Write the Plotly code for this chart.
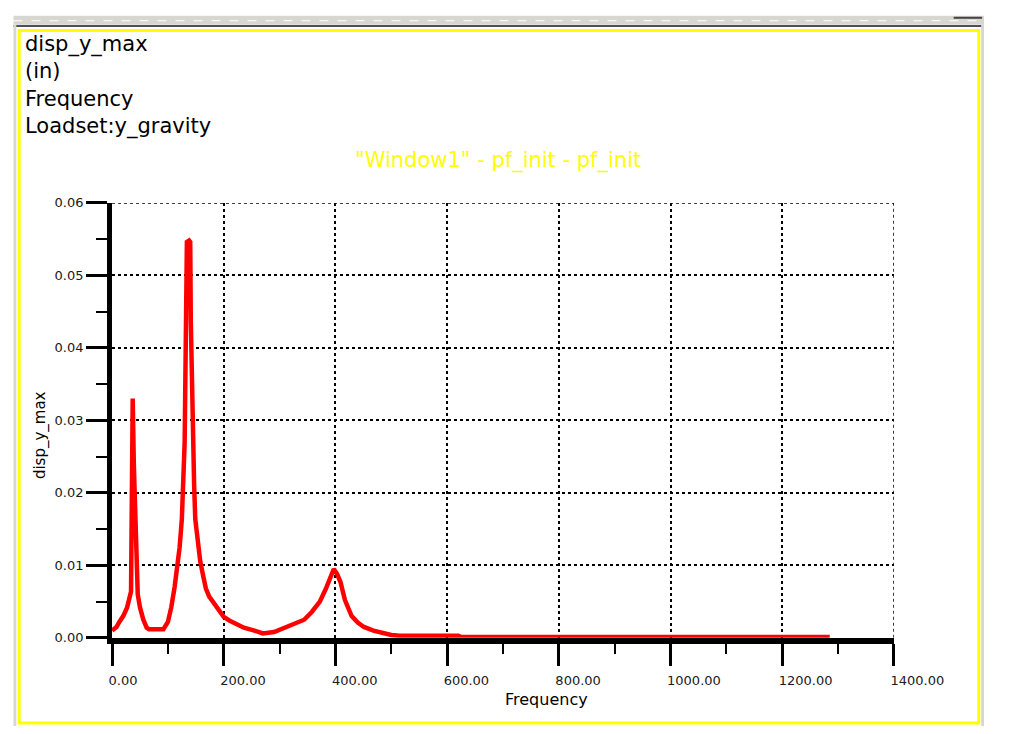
import plotly.graph_objects as go

W, H = 1034, 734

# ---- data ----
freq = [0, 8, 13, 20, 27, 31, 34, 35, 37, 39, 43, 46, 50, 56, 62, 66, 88,
        92, 100, 106, 112, 117, 121, 125, 128, 130, 132, 134, 138, 140, 141, 143, 145, 147,
        149, 154, 158, 163, 168, 174, 180, 190, 200, 210, 220, 236, 255, 270, 290, 310,
        330, 344, 358, 372, 383, 392, 397, 403, 409, 417, 424, 429, 440, 451, 468, 485,
        500, 515, 620, 625, 1285]
disp = [0.0010, 0.0015, 0.0022, 0.0030, 0.0042, 0.0052, 0.0064, 0.0155, 0.0330, 0.0240,
        0.0096, 0.0060, 0.0042, 0.0025, 0.0014, 0.0012, 0.0012,
        0.0012, 0.0022, 0.0042, 0.0070, 0.0096, 0.0125, 0.0164, 0.0215, 0.0270, 0.0407,
        0.0546, 0.0548, 0.0546, 0.0437, 0.0340, 0.0270, 0.0210,
        0.0164, 0.0125, 0.0105, 0.0086, 0.0068, 0.0057, 0.0050, 0.0040, 0.0029, 0.0024,
        0.0020, 0.0014, 0.0010, 0.0006, 0.0008, 0.0014,
        0.0020, 0.0025, 0.0036, 0.0050, 0.0068, 0.0085, 0.0095, 0.0088, 0.0077, 0.0052,
        0.0038, 0.0030, 0.0021, 0.0015, 0.0010, 0.0006,
        0.0004, 0.0003, 0.0003, 0.0001, 0.0001]

x_ticks = [0, 200, 400, 600, 800, 1000, 1200, 1400]
x_ticklabels = ["0.00", "200.00", "400.00", "600.00", "800.00", "1000.00", "1200.00", "1400.00"]
y_ticks = [0.00, 0.01, 0.02, 0.03, 0.04, 0.05, 0.06]
y_ticklabels = ["0.00", "0.01", "0.02", "0.03", "0.04", "0.05", "0.06"]

header_lines = ["disp_y_max", "(in)", "Frequency", "Loadset:y_gravity"]
subtitle = '"Window1" - pf_init - pf_init'
x_title = "Frequency"
y_title = "disp_y_max"

# ---- geometry helpers (pixel -> paper, margins are zero) ----
def X(px):
    return px / W

def Y(py):
    return 1 - py / H

PL, PR, PT, PB = 114, 939, 200, 644

fig = go.Figure()
fig.add_trace(go.Scatter(x=freq, y=disp, mode="lines",
                         line=dict(color="#ff0000", width=4.5), hoverinfo="skip",
                         showlegend=False))

tickfont = dict(family="DejaVu Sans", size=13, color="#1a1a1a")

fig.update_layout(
    width=W, height=H,
    margin=dict(l=0, r=0, t=0, b=0),
    paper_bgcolor="white", plot_bgcolor="white",
    showlegend=False,
    xaxis=dict(
        domain=[X(PL), X(PR)], range=[0, 1400],
        tickmode="array", tickvals=x_ticks, ticktext=x_ticklabels,
        ticks="outside", ticklen=22, tickwidth=3, tickcolor="black",
        ticklabelposition="outside right", ticklabelshift=-8, ticklabelstandoff=26,
        showline=True, linecolor="black", linewidth=6,
        showgrid=True, gridcolor="black", gridwidth=1.5, griddash="dot",
        zeroline=False, layer="below traces",
        minor=dict(dtick=100, ticks="outside", ticklen=10, tickwidth=2,
                   tickcolor="black", showgrid=False),
        tickfont=tickfont, fixedrange=True,
    ),
    yaxis=dict(
        domain=[Y(PB), Y(PT)], range=[0, 0.06],
        tickmode="array", tickvals=y_ticks, ticktext=y_ticklabels,
        ticks="outside", ticklen=21, tickwidth=3, tickcolor="black",
        showline=True, linecolor="black", linewidth=5,
        showgrid=True, gridcolor="black", gridwidth=1.5, griddash="dot",
        zeroline=False, layer="below traces",
        minor=dict(dtick=0.005, ticks="outside", ticklen=11, tickwidth=2,
                   tickcolor="black", showgrid=False),
        tickfont=tickfont, fixedrange=True,
    ),
)

shapes = []
# window chrome
shapes.append(dict(type="rect", xref="paper", yref="paper", x0=X(10), x1=X(1034), y0=Y(18), y1=Y(9),
                   fillcolor="#d8d6d0", line=dict(width=0), layer="below"))
shapes.append(dict(type="line", xref="paper", yref="paper", x0=X(10), x1=X(1034), y0=Y(14), y1=Y(14),
                   line=dict(color="white", width=1, dash="dash")))
shapes.append(dict(type="line", xref="paper", yref="paper", x0=X(10), x1=X(1034), y0=Y(19.5), y1=Y(19.5),
                   line=dict(color="#505050", width=2)))
shapes.append(dict(type="rect", xref="paper", yref="paper", x0=X(10), x1=X(13), y0=Y(734), y1=Y(18),
                   fillcolor="#d8d6d0", line=dict(width=0)))
shapes.append(dict(type="rect", xref="paper", yref="paper", x0=X(1031), x1=X(1034), y0=Y(734), y1=Y(18),
                   fillcolor="#d8d6d0", line=dict(width=0)))
shapes.append(dict(type="line", xref="paper", yref="paper", x0=X(1002), x1=X(1032), y0=Y(11), y1=Y(11),
                   line=dict(color="#444444", width=2)))
shapes.append(dict(type="rect", xref="paper", yref="paper", x0=X(16), x1=X(1028.5), y0=Y(731), y1=Y(24),
                   line=dict(color="#ffff00", width=3), fillcolor="rgba(0,0,0,0)"))
# top and right dotted boundary gridlines
shapes.append(dict(type="line", xref="x", yref="y", x0=0, x1=1400, y0=0.06, y1=0.06,
                   line=dict(color="black", width=1.5, dash="dot"), layer="below"))
shapes.append(dict(type="line", xref="x", yref="y", x0=1400, x1=1400, y0=0, y1=0.06,
                   line=dict(color="black", width=1.5, dash="dot"), layer="below"))
fig.update_layout(shapes=shapes)

ann = []
ann.append(dict(text="<br>".join(header_lines), xref="paper", yref="paper", x=X(20), y=Y(80),
                xanchor="left", yanchor="middle", align="left", showarrow=False,
                font=dict(family="DejaVu Sans", size=21, color="black")))
ann.append(dict(text=subtitle, xref="paper", yref="paper", x=X(521), y=Y(157),
                xanchor="center", yanchor="middle", showarrow=False,
                font=dict(family="DejaVu Sans", size=21, color="#ffff00")))
ann.append(dict(text=x_title, xref="paper", yref="paper", x=X(572), y=Y(707),
                xanchor="center", yanchor="middle", showarrow=False,
                font=dict(family="DejaVu Sans", size=16, color="black")))
ann.append(dict(text=y_title, xref="paper", yref="paper", x=X(38), y=Y(437),
                xanchor="center", yanchor="middle", showarrow=False, textangle=-90,
                font=dict(family="DejaVu Sans", size=15, color="black")))
fig.update_layout(annotations=ann)

fig.write_html("out.html")
